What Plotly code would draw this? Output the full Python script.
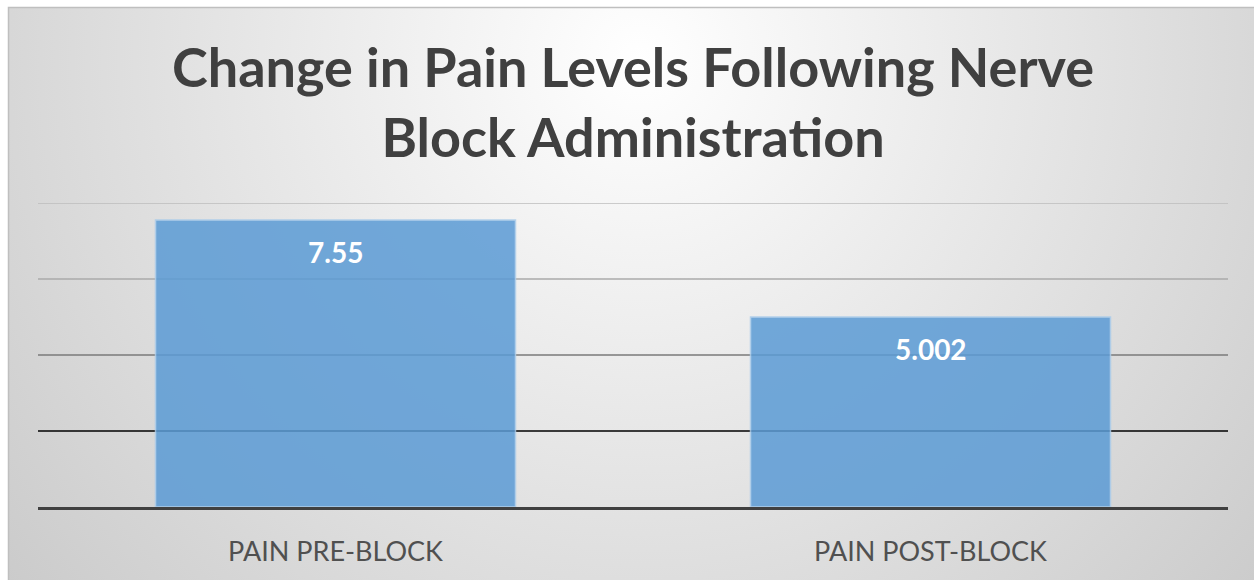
import base64
import plotly.graph_objects as go

categories = ["PAIN PRE-BLOCK", "PAIN POST-BLOCK"]
values = [7.55, 5.002]
value_labels = ["7.55", "5.002"]
grid_values = [2, 4, 6, 8]
grid_colors = ["#000000", "#7a7a7a", "#aaaaaa", "#bdbdbd"]

W, H = 1254, 580
L, R, T, B = 38, 26, 203, 73
pw, ph = W - L - R, H - T - B

svg = f'''<svg xmlns="http://www.w3.org/2000/svg" width="{W}" height="{H}" viewBox="0 0 {W} {H}">
<defs><radialGradient id="g" gradientUnits="userSpaceOnUse" cx="640" cy="60" r="820">
<stop offset="0" stop-color="#ffffff"/><stop offset="1" stop-color="#cbcbcb"/></radialGradient></defs>
<rect x="0" y="0" width="{W}" height="{H}" fill="#ffffff"/>
<rect x="8" y="7" width="{W}" height="{H}" fill="url(#g)"/>
<path d="M8.5 {H} L8.5 7.5 L{W} 7.5" fill="none" stroke="#bfbfbf" stroke-width="1.5"/>
</svg>'''
src = "data:image/svg+xml;base64," + base64.b64encode(svg.encode()).decode()

fig = go.Figure()
fig.add_trace(go.Bar(
    x=categories, y=values,
    marker=dict(color="#5b9bd5", line=dict(color="#a9cbea", width=1.5)),
    opacity=0.85,
    hoverinfo="skip",
))

for v, lab, c in zip(values, value_labels, categories):
    fig.add_annotation(x=c, y=v, text=f"<b>{lab}</b>", showarrow=False,
                       yanchor="middle", yshift=-32,
                       font=dict(family="Lato", size=28, color="#ffffff"))

for gv, gc in zip(grid_values, grid_colors):
    fig.add_shape(type="line", xref="paper", yref="y", x0=0, x1=1, y0=gv, y1=gv,
                  line=dict(color=gc, width=1.5), layer="below")

fig.add_layout_image(dict(source=src, xref="paper", yref="paper",
                          x=-L / pw, y=1 + T / ph, sizex=W / pw, sizey=H / ph,
                          xanchor="left", yanchor="top", sizing="stretch", layer="below"))

fig.add_annotation(text="<b>Change in Pain Levels Following Nerve<br>Block Administration</b>",
                   xref="paper", yref="paper", x=0.5, y=(H - B - 101) / ph,
                   xanchor="center", yanchor="middle", showarrow=False,
                   font=dict(family="Lato", size=54, color="#404040"))

fig.update_layout(
    width=W, height=H,
    margin=dict(l=L, r=R, t=T, b=B),
    paper_bgcolor="rgba(0,0,0,0)", plot_bgcolor="rgba(0,0,0,0)",
    bargap=0.395,
    showlegend=False,
    xaxis=dict(showline=True, linecolor="#404040", linewidth=3, showgrid=False,
               ticks="", ticklabelstandoff=19,
               tickfont=dict(family="Lato", size=27, color="#505050")),
    yaxis=dict(range=[0, 8], showgrid=False, zeroline=False, showticklabels=False),
)

fig.write_html("out.html", config={"displayModeBar": False},
               post_script="document.body.style.margin='0';document.body.style.padding='0';")
